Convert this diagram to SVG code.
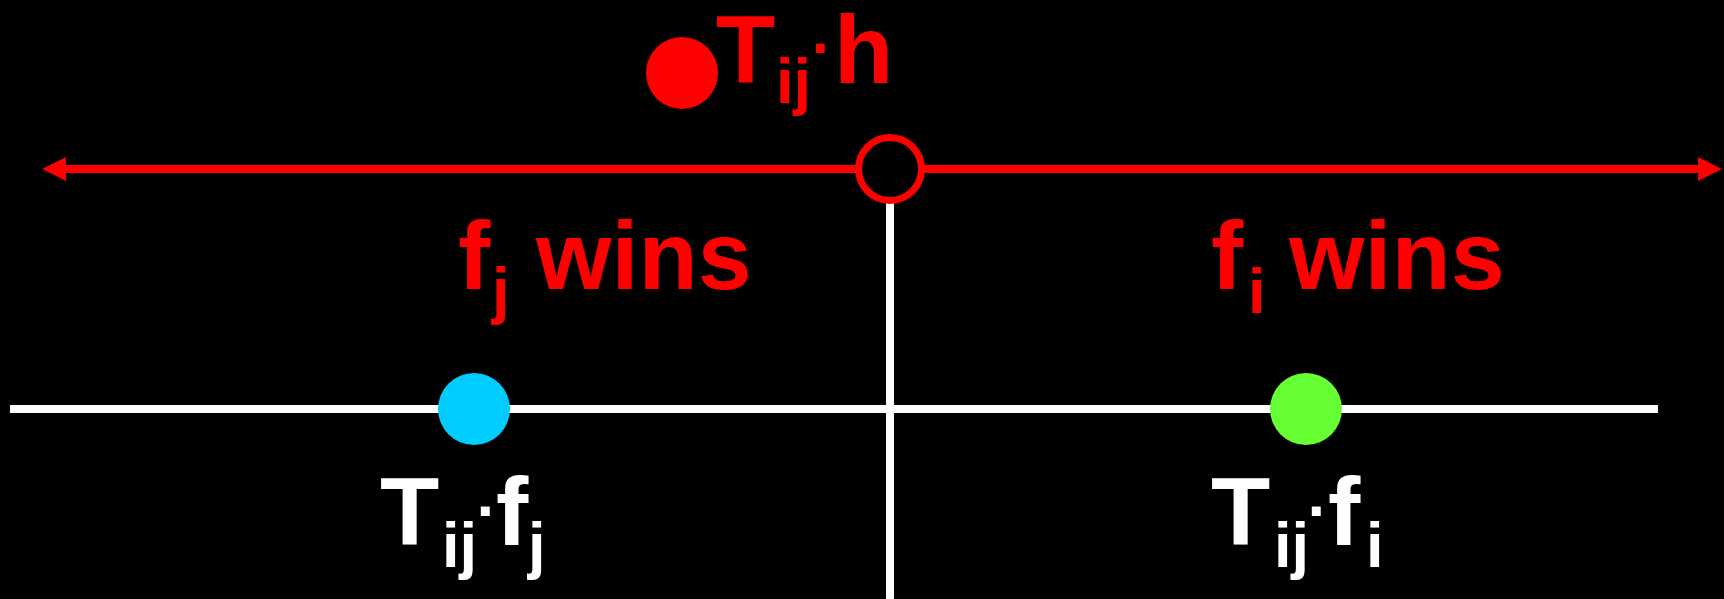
<svg xmlns="http://www.w3.org/2000/svg" width="1724" height="599" viewBox="0 0 1724 599">
<style>
.t{font-family:"Liberation Sans",Arial,sans-serif;font-weight:bold}
.big{font-size:97px}
.sub{font-size:63px}
.red{fill:#FF0000}
.wht{fill:#FFFFFF}
</style>
<defs>
<marker id="ah" markerUnits="userSpaceOnUse" markerWidth="24" markerHeight="24" refX="0" refY="12" orient="auto-start-reverse">
<path d="M0,0 L24,12 L0,24 z" fill="#FF0000"/>
</marker>
</defs>
<rect x="0" y="0" width="1724" height="599" fill="#000000"/>
<g id="connectors">
<line x1="66" y1="169" x2="1698" y2="169" stroke="#FF0000" stroke-width="8" marker-start="url(#ah)" marker-end="url(#ah)"/>
<line x1="10" y1="409" x2="1658" y2="409" stroke="#FFFFFF" stroke-width="8"/>
<line x1="890" y1="200" x2="890" y2="599" stroke="#FFFFFF" stroke-width="8"/>
</g>
<g id="origin">
<circle cx="890" cy="169" r="31.5" fill="#000000" stroke="#FF0000" stroke-width="7"/>
</g>
<g id="tij-h">
<circle cx="682" cy="73" r="36" fill="#FF0000"/>
<text class="t big red" x="716" y="83">T</text>
<text class="t sub red" x="776" y="103">ij</text>
<text class="t sub red" x="822" y="69" text-anchor="middle">·</text>
<text class="t big red" x="834" y="83">h</text>
</g>
<g id="fj-wins">
<text class="t big red" x="458" y="289">f</text>
<text class="t sub red" x="492" y="312">j</text>
<text class="t big red" x="536" y="289">wins</text>
</g>
<g id="fi-wins">
<text class="t big red" x="1211" y="289">f</text>
<text class="t sub red" x="1248" y="313">i</text>
<text class="t big red" x="1289" y="289">wins</text>
</g>
<g id="tij-fj">
<circle cx="474" cy="409" r="36" fill="#00CCFF"/>
<text class="t big wht" x="380" y="545">T</text>
<text class="t sub wht" x="442" y="567">ij</text>
<text class="t sub wht" x="487" y="532" text-anchor="middle">·</text>
<text class="t big wht" x="496" y="545">f</text>
<text class="t sub wht" x="528" y="567">j</text>
</g>
<g id="tij-fi">
<circle cx="1306" cy="409" r="36" fill="#66FF33"/>
<text class="t big wht" x="1211" y="545">T</text>
<text class="t sub wht" x="1274" y="567">ij</text>
<text class="t sub wht" x="1318" y="532" text-anchor="middle">·</text>
<text class="t big wht" x="1328" y="545">f</text>
<text class="t sub wht" x="1366" y="567">i</text>
</g>
</svg>
